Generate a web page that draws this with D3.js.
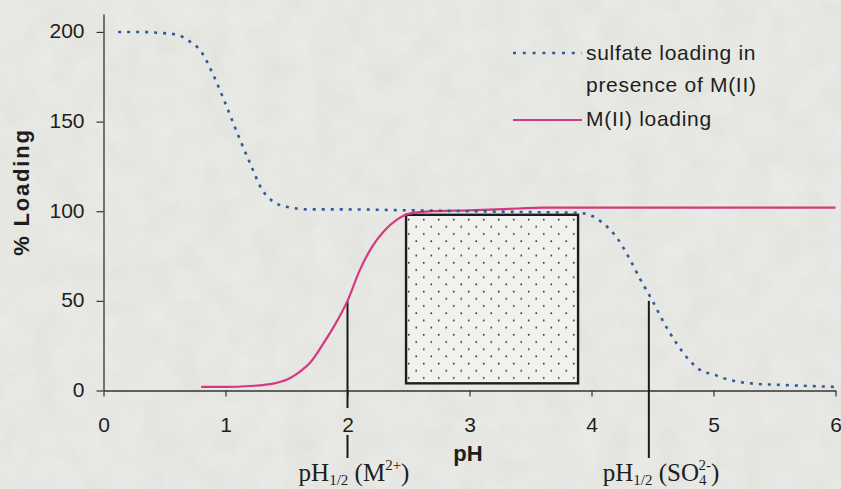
<!DOCTYPE html>
<html>
<head>
<meta charset="utf-8">
<script src="https://cdn.jsdelivr.net/npm/d3@7"></script>
<style>
  html, body { margin: 0; padding: 0; background: #e9eae5; }
  svg { display: block; }
  text { font-family: "Liberation Sans", Arial, sans-serif; fill: #1e1e1e; }
  .serif { font-family: "Liberation Serif", "Times New Roman", serif; }
</style>
</head>
<body>
<svg id="chart" width="841" height="489"></svg>
<script>
// Sulfate loading in presence of M(II): pH vs % loading
const sulfatePH   = [0.12, 0.3, 0.45, 0.6, 0.7, 0.8, 0.9, 1.0, 1.1, 1.2, 1.3, 1.4, 1.5, 1.7, 2.0, 2.5, 3.0, 3.5, 3.9, 4.0, 4.1, 4.2, 4.3, 4.4, 4.5, 4.6, 4.7, 4.8, 4.9, 5.0, 5.1, 5.3, 5.6, 6.0];
const sulfateLoad = [200, 200, 199.5, 198.5, 195, 189, 176, 160, 143, 127, 112, 105, 102.5, 101, 101, 100.5, 100, 99.5, 99, 97.5, 93, 86, 75, 62, 50, 37, 26, 17, 11, 9, 6.5, 4, 3, 2];

// M(II) loading: pH vs % loading
const metalPH   = [0.8, 1.0, 1.2, 1.4, 1.5, 1.6, 1.7, 1.8, 1.9, 2.0, 2.1, 2.2, 2.3, 2.4, 2.5, 2.7, 3.0, 3.4, 3.6, 4.0, 5.0, 6.0];
const metalLoad = [2, 2, 2.5, 4, 6, 10, 16, 26, 37, 50, 67, 80, 89, 95, 98.5, 100, 100.5, 101.5, 102, 102, 102, 102];

// Shaded working window (pH range and loading range)
const windowPH   = [2.48, 3.89];
const windowLoad = [4, 98];

// pH1/2 markers
const halfPH   = [2, 4.47];
const halfLoad = [50, 50];

const xTicks = [0, 1, 2, 3, 4, 5, 6];
const yTicks = [0, 50, 100, 150, 200];

const legendLabels = [["sulfate loading in", "presence of M(II)"], ["M(II) loading"]];

const blue = "#2f5b9c";
const magenta = "#d4387f";

const svg = d3.select("#chart");

// paper-like background
const defs = svg.append("defs");
const f = defs.append("filter").attr("id", "paper").attr("x", 0).attr("y", 0).attr("width", "100%").attr("height", "100%");
f.append("feTurbulence").attr("type", "fractalNoise").attr("baseFrequency", 0.035).attr("numOctaves", 3).attr("seed", 4).attr("result", "n");
f.append("feColorMatrix").attr("in", "n").attr("type", "matrix")
  .attr("values", "0 0 0 0 0.55  0 0 0 0 0.56  0 0 0 0 0.52  0 0 0 0.3 -0.08");

const pat = defs.append("pattern").attr("id", "stipple").attr("patternUnits", "userSpaceOnUse")
  .attr("width", 15).attr("height", 14.4);
pat.append("rect").attr("width", 15).attr("height", 14.4).attr("fill", "#f1f1ee");
pat.append("circle").attr("cx", 3.75).attr("cy", 3.6).attr("r", 0.95).attr("fill", "#333");
pat.append("circle").attr("cx", 11.25).attr("cy", 10.8).attr("r", 0.95).attr("fill", "#333");

svg.append("rect").attr("width", 841).attr("height", 489).attr("fill", "#e9eae5");
svg.append("rect").attr("width", 841).attr("height", 489).attr("filter", "url(#paper)");

const x = d3.scaleLinear().domain([0, 6]).range([103.5, 835.5]);
const y = d3.scaleLinear().domain([0, 210]).range([390.5, 14]);

// axes
const xAxis = svg.append("g").attr("transform", `translate(0,${y(0)})`)
  .call(d3.axisBottom(x).tickValues(xTicks).tickSize(6).tickSizeOuter(0).tickPadding(22).tickFormat(d3.format("d")));
const yAxis = svg.append("g").attr("transform", `translate(${x(0)},0)`)
  .call(d3.axisLeft(y).tickValues(yTicks).tickSize(7).tickSizeOuter(0).tickPadding(12).tickFormat(d3.format("d")));
[xAxis, yAxis].forEach(g => {
  g.selectAll("path.domain").attr("stroke", "#333").attr("stroke-width", 1.3);
  g.selectAll(".tick line").attr("stroke", "#333").attr("stroke-width", 1.2);
  g.selectAll(".tick text").style("font-size", "21px").attr("fill", "#1a1a1a")
    .style("font-family", "Liberation Sans, Arial, sans-serif");
});
yAxis.selectAll(".tick text").attr("dy", "0.28em");
xAxis.selectAll(".tick text").attr("dy", "0.62em");

// axis titles
svg.append("text").attr("transform", `translate(29,192) rotate(-90)`)
  .attr("text-anchor", "middle").style("font-size", "22px").style("font-weight", "bold")
  .style("letter-spacing", "1.8px").text("% Loading");
svg.append("text").attr("x", 468).attr("y", 461).attr("text-anchor", "middle")
  .style("font-size", "22px").style("font-weight", "bold").text("pH");

// shaded window
svg.append("rect")
  .attr("x", x(windowPH[0])).attr("y", y(windowLoad[1]))
  .attr("width", x(windowPH[1]) - x(windowPH[0]))
  .attr("height", y(windowLoad[0]) - y(windowLoad[1]))
  .attr("fill", "url(#stipple)").attr("stroke", "#1e1e1e").attr("stroke-width", 2.4);

// pH1/2 marker lines (the left one is broken around its tick label)
const labelGap = [[408, 435], [null, null]];
halfPH.forEach((p, i) => {
  const gap = labelGap[i];
  const segs = gap[0] == null ? [[y(halfLoad[i]), 458]] : [[y(halfLoad[i]), gap[0]], [gap[1], 458]];
  segs.forEach(s => svg.append("line").attr("x1", x(p)).attr("x2", x(p)).attr("y1", s[0]).attr("y2", s[1])
    .attr("stroke", "#1a1a1a").attr("stroke-width", 2));
});

// curves
const line = d3.line().curve(d3.curveMonotoneX);
svg.append("path")
  .attr("d", line(metalPH.map((p, i) => [x(p), y(metalLoad[i])])))
  .attr("fill", "none").attr("stroke", magenta).attr("stroke-width", 2.2);
svg.append("path")
  .attr("d", line(sulfatePH.map((p, i) => [x(p), y(sulfateLoad[i])])))
  .attr("fill", "none").attr("stroke", blue).attr("stroke-width", 2.6).attr("stroke-dasharray", "3,6");

// legend
const lg = svg.append("g");
lg.append("line").attr("x1", 513).attr("x2", 582).attr("y1", 53).attr("y2", 53)
  .attr("stroke", blue).attr("stroke-width", 2.6).attr("stroke-dasharray", "3,6.8");
lg.append("line").attr("x1", 513).attr("x2", 582).attr("y1", 120).attr("y2", 120)
  .attr("stroke", magenta).attr("stroke-width", 2.2);
const lt = [[60, 92], [126]];
legendLabels.forEach((lines, i) => lines.forEach((t, j) =>
  lg.append("text").attr("x", 586).attr("y", lt[i][j]).style("font-size", "21px")
    .style("letter-spacing", "0.7px").text(t)));

// pH1/2 annotations
function halfLabel(cx, sup, inner) {
  const t = svg.append("text").attr("class", "serif").attr("x", cx).attr("y", 481)
    .attr("text-anchor", "middle").style("font-size", "25px").attr("fill", "#111");
  t.append("tspan").text("pH");
  t.append("tspan").attr("dy", 4).style("font-size", "15px").text("1/2");
  t.append("tspan").attr("dy", -4).text(" (" + inner);
  if (inner.startsWith("SO")) {
    t.append("tspan").attr("dy", 4).style("font-size", "15px").text("4");
    t.append("tspan").attr("dy", -15).attr("dx", -8).style("font-size", "15px").text(sup);
    t.append("tspan").attr("dy", 11).text(")");
  } else {
    t.append("tspan").attr("dy", -11).style("font-size", "15px").text(sup);
    t.append("tspan").attr("dy", 11).text(")");
  }
}
halfLabel(354, "2+", "M");
halfLabel(661, "2-", "SO");
</script>
</body>
</html>
